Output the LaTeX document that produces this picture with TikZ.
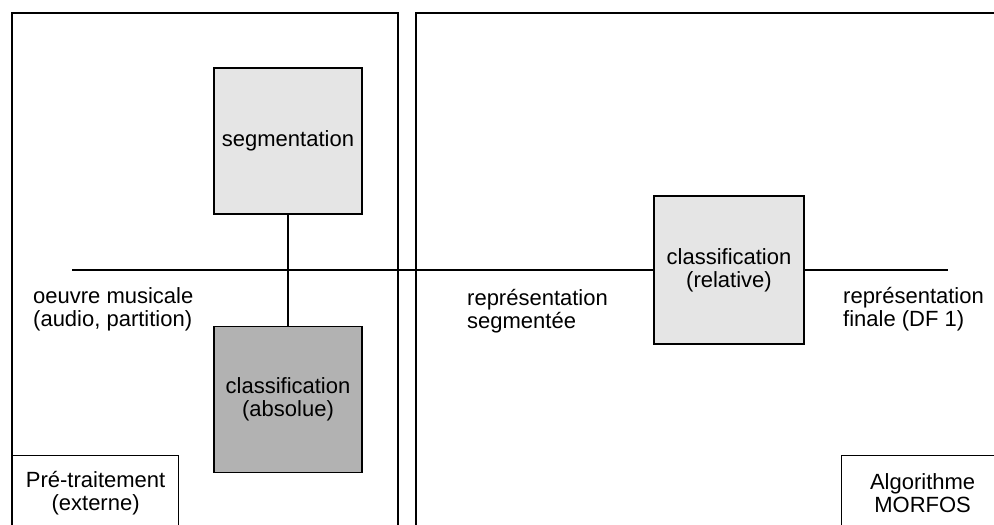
\documentclass[tikz,border=0pt]{standalone}
\usepackage{fontspec}
\setmainfont{Liberation Sans}

\tikzstyle{panneau}=[draw,line width=1.5pt]
\tikzstyle{bloc}=[draw,line width=1.5pt,minimum width=148pt,minimum height=146pt,inner sep=0pt,align=center,fill=gray!20]
\tikzstyle{cadre}=[draw,line width=1.2pt,anchor=north west,minimum height=75pt,inner sep=0pt,align=center]
\tikzstyle{etiquette}=[anchor=north west,align=left,inner sep=0pt]
\tikzstyle{lien} = [draw,line width=1.3pt,-]

\begin{document}
\begin{tikzpicture}[x=1pt,y=-1pt,font=\fontsize{22}{23}\selectfont]
		\useasboundingbox (0,0) rectangle (994,525);
		\clip (0,0) rectangle (994,525);
		% Les deux panneaux
		\draw[panneau] (12,13) rectangle (398,540);
		\draw[panneau] (416,13) rectangle (1010,540);
		\node[cadre,minimum width=166pt] (pre) at (12,455) {Pré-traitement\\(externe)};
		\node[cadre,minimum width=162pt] (algo) at (841,455) {Algorithme\\MORFOS};
		% Les blocs
		\node[bloc] (seg) at (288,141) {segmentation};
		\node[bloc,fill=gray!60] (abs) at (288,399.5) {classification\\(absolue)};
		\node[bloc,minimum width=150pt,minimum height=148pt] (rel) at (729,270) {classification\\(relative)};
		\coordinate (entree) at (72,270);
		\coordinate (sortie) at (948,270);
		% Les etiquettes
		\node[etiquette] (oeuvre) at (33,287) {oeuvre musicale\\(audio, partition)};
		\node[etiquette] (repseg) at (467,289) {représentation\\segmentée};
		\node[etiquette] (repfin) at (843,287) {représentation\\finale (DF 1)};
		% Les liens
		\foreach \source/ \dest in {entree/rel, seg/abs, rel/sortie}
		\path[lien] (\source) to (\dest);
\end{tikzpicture}
\end{document}
